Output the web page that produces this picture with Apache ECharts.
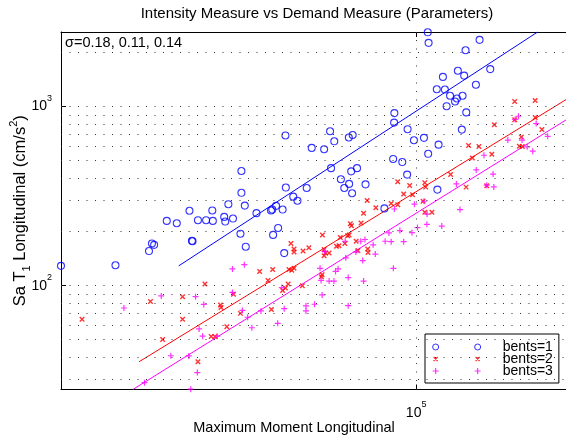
<!DOCTYPE html>
<html>
<head>
<meta charset="utf-8">
<title>Intensity Measure vs Demand Measure (Parameters)</title>
<style>
  html, body { margin: 0; padding: 0; background: #fff; }
  #main { width: 566px; height: 435px; }
</style>
</head>
<body>
<div id="main"></div>
<script src="https://cdn.jsdelivr.net/npm/echarts@6.0.0/dist/echarts.min.js"></script>
<script type="text/javascript">
// [maximum moment, Sa T1]
var bents1 = [
  [20000,129],[25600,130],[29800,156],[30200,172],[30500,169],[32300,230],[33800,223],[35800,262],[36200,178],[36300,177],
  [37200,232],[38600,232],[39700,263],[39800,230],[41900,242],[42100,228],[42700,285],[43600,237],[45100,195],[45300,437],
  [45300,330],[46000,280],[46200,165],[48500,254],[51800,263],[52100,266],[53000,279],[54600,266],[52300,192],[53500,210],
  [55300,690],[55400,353],[57300,314],[58400,298],[60900,351],[62300,588],[65900,578],[67700,728],[69000,640],[68000,453],
  [71100,393],[72200,351],[73800,370],[74800,328],[73700,672],[75000,694],[74500,435],[76500,453],[79500,368],[86600,270],
  [90100,510],[93900,490],[96000,417],[90600,920],[90500,814],[96200,748],[99000,649],[103600,669],[105400,2600],[105800,2270],
  [133300,2360],[125100,2065],[112900,1465],[120800,1585],[124300,1490],[139900,1620],[109800,1250],[113900,1245],[131100,1325],[116600,1150],
  [120300,1110],[119300,1068],[123400,1150],[114800,1005],[125500,928],[123000,744],[110700,613],[105600,545],[110100,344],[55000,152]
];
var bents2 = [
  [22000,65],[30000,81.5],[34700,86.8],[34700,65],[31700,50],[38400,102],[41200,78],[41300,75.5],[39500,52],[40200,52],
  [42400,59],[43700,89.5],[45100,70],[37200,37.6],[49200,120],[52200,123],[51100,107],[51900,73.6],[56700,172],[57500,160],
  [57500,154],[56200,123],[56900,122],[57500,125],[56000,102],[55300,97],[54600,94],[59700,100],[59900,156],[61500,163],
  [65400,192],[65900,159],[66300,152],[65900,147],[67400,152],[69700,166],[70500,167],[70900,186],[73300,190],[73800,192],
  [72400,172],[76200,177],[76800,157],[80300,160],[80400,153],[65300,115],[65100,112],[74200,222],[74600,216],[77900,224],
  [78800,254],[80100,299],[83300,272],[89300,288],[92000,283],[92000,381],[97100,362],[94500,325],[98400,322],[104000,376],
  [104400,355],[103200,296],[104000,257],[107400,257],[116900,418],[125400,355],[126800,606],[132900,599],[129000,517],[140900,542],
  [142500,793],[156300,1068],[171500,1080],[156300,844],[171500,870],[176800,744],[161100,677],[159600,600],[161800,598],[137700,361]
];
var bents3 = [
  [26600,75],[31500,87.6],[36800,86.8],[38200,78.5],[43500,124],[45900,131],[43500,91.6],[45500,72.7],[46600,66.6],[47500,58.2],
  [49500,72.2],[55000,74.4],[53400,61.6],[37400,57.3],[38000,52.2],[40600,52.2],[32900,40.6],[35700,40.5],[37100,32.7],[29200,28.7],
  [36000,26.4],[54400,97.5],[60700,77],[60700,72.2],[63100,78.7],[65300,88.7],[73500,77.3],[64700,125],[65000,107],[67400,106],
  [68900,106],[69400,120],[70200,124],[73500,111],[72700,143],[76100,154],[78500,138],[78800,106],[83100,150],[82300,169],
  [79300,181],[77800,177],[86900,177],[89300,176],[94500,176],[90200,125],[66100,155],[72500,177],[92900,203],[88400,197],
  [98100,198],[100600,211],[105000,220],[105100,251],[112300,215],[122000,266],[103600,296],[99200,285],[90600,268],[120000,370],
  [137700,364],[142200,356],[159000,883],[156600,847],[172300,804],[181500,682],[151500,650],[161600,650],[165400,596],[169600,564],
  [136000,535],[141700,420],[131300,443]
];
// fitted lines, end points
var fit1 = [[34100,129],[173400,2610]];
var fit2 = [[28500,37.6],[199000,1111]];
var fit3 = [[27700,26.3],[199000,856]];
// axis ranges and dotted grid
var xRange = [20000, 199000];
var yRange = [26.3, 2610];
var xGrid = [100000];
var yGrid = [30,40,50,60,70,80,90,100,200,300,400,500,600,700,800,900,1000,2000];
var names = ['bents=1', 'bents=2', 'bents=3'];
var sigmaText = 'σ=0.18, 0.11, 0.14';

var FONT = '"Liberation Sans", Arial, Helvetica, sans-serif';
var BLUE = '#0000ff', RED = '#ff0000', MAGENTA = '#ff00ff';

// 10^n labels, nothing for the range ends
function powLabel(v) {
  var e = Math.log(v) / Math.LN10;
  if (Math.abs(e - Math.round(e)) > 1e-6) return '';
  return '{b|10}{s|' + Math.round(e) + '}';
}
var powRich = {
  b: { fontSize: 14, color: '#000', fontFamily: FONT },
  s: { fontSize: 9, color: '#000', fontFamily: FONT, padding: [0, 0, 16, 0] }
};

var gridLines = [];
yGrid.forEach(function (v) { gridLines.push({ yAxis: v }); });
xGrid.forEach(function (v) { gridLines.push({ xAxis: v }); });

// legend icons: marker at both ends of a 50x7 box
var iconO = 'path://M0,0M50,7M7,3.5A3,3,0,1,1,1,3.5A3,3,0,1,1,7,3.5ZM49,3.5A3,3,0,1,1,43,3.5A3,3,0,1,1,49,3.5Z';
var iconX = 'path://M0,0M50,7M2,1.5L6,5.5M6,1.5L2,5.5M44,1.5L48,5.5M48,1.5L44,5.5';
var iconP = 'path://M0,0M50,7M1,3.5L7,3.5M4,0.5L4,6.5M43,3.5L49,3.5M46,0.5L46,6.5';

var myChart = echarts.init(document.getElementById('main'), null, { renderer: 'canvas' });

function fitSeries(data, color) {
  return {
    type: 'line', data: data, symbol: 'none', silent: true, z: 2,
    lineStyle: { color: color, width: 1 }
  };
}
function markSeries(name, data, symbol, size, color, lw) {
  return {
    name: name, type: 'scatter', data: data, symbol: symbol, symbolSize: size, z: 3,
    emphasis: { disabled: true },
    itemStyle: { color: 'transparent', borderColor: color, borderWidth: lw }
  };
}

var gridSeries = fitSeries(fit1, BLUE);
gridSeries.markLine = {
  silent: true, symbol: ['none', 'none'], animation: false,
  label: { show: false },
  lineStyle: { type: [1, 7.5], color: '#333', width: 1 },
  data: gridLines
};

var option = {
  animation: false,
  textStyle: { fontFamily: FONT },
  title: {
    text: 'Intensity Measure vs Demand Measure (Parameters)',
    left: 317, top: 6, padding: 0, textAlign: 'center',
    textStyle: { fontSize: 15, fontWeight: 'normal', color: '#000', fontFamily: FONT }
  },
  // keep the axes box fixed, labels may sit outside it
  grid: { left: 61, right: -2, top: 32, bottom: 45.5, containLabel: false, outerBoundsMode: 'none' },
  xAxis: [{
    type: 'log', logBase: 10, min: xRange[0], max: xRange[1], position: 'bottom',
    name: 'Maximum Moment Longitudinal', nameLocation: 'middle', nameGap: 31, nameMoveOverlap: false,
    nameTextStyle: { fontSize: 14.5, color: '#000', fontFamily: FONT, padding: [0, 41, 0, 0] },
    axisLine: { show: true, onZero: false, lineStyle: { color: '#000', width: 1 } },
    axisTick: { show: true, inside: true, length: 5, lineStyle: { color: '#000' } },
    axisLabel: { show: true, interval: 0, margin: 11, formatter: powLabel, rich: powRich },
    splitLine: { show: false }
  }, {
    type: 'log', logBase: 10, min: xRange[0], max: xRange[1], position: 'top',
    axisLine: { show: true, onZero: false, lineStyle: { color: '#000', width: 1 } },
    axisTick: { show: true, inside: true, length: 5, lineStyle: { color: '#000' } },
    axisLabel: { show: false },
    splitLine: { show: false }
  }],
  yAxis: {
    type: 'log', logBase: 10, min: yRange[0], max: yRange[1],
    name: 'Sa T{sub|1} Longitudinal (cm/s{sup|2})',
    nameLocation: 'middle', nameGap: 28, nameRotate: 90, nameMoveOverlap: false,
    nameTextStyle: {
      fontSize: 16.5, color: '#000', fontFamily: FONT,
      rich: {
        sub: { fontSize: 11, color: '#000', fontFamily: FONT, padding: [13, 0, 0, 0] },
        sup: { fontSize: 11, color: '#000', fontFamily: FONT, padding: [0, 0, 14, 0] }
      }
    },
    axisLine: { show: true, onZero: false, lineStyle: { color: '#000', width: 1 } },
    axisTick: { show: true, inside: true, length: 5, lineStyle: { color: '#000' } },
    axisLabel: { show: true, interval: 0, margin: 9, formatter: powLabel, rich: powRich },
    splitLine: { show: false }
  },
  legend: {
    orient: 'vertical', left: 425, top: 334,
    padding: [6, 6, 5, 6],
    backgroundColor: '#fff', borderColor: '#000', borderWidth: 1, borderRadius: 0,
    itemWidth: 50, itemHeight: 7, itemGap: -2, selectedMode: false,
    textStyle: { fontSize: 14, lineHeight: 12, color: '#000', fontFamily: FONT, padding: [0, 0, 0, 16] },
    data: [
      { name: names[0], icon: iconO, itemStyle: { color: 'transparent', borderColor: BLUE, borderWidth: 1 } },
      { name: names[1], icon: iconX, itemStyle: { color: 'transparent', borderColor: RED, borderWidth: 1.3 } },
      { name: names[2], icon: iconP, itemStyle: { color: 'transparent', borderColor: MAGENTA, borderWidth: 1.2 } }
    ]
  },
  graphic: [{
    type: 'text', left: 65, top: 35, z: 10,
    style: { text: sigmaText, fill: '#000', font: '14.5px ' + FONT }
  }],
  series: [
    gridSeries,
    fitSeries(fit2, RED),
    fitSeries(fit3, MAGENTA),
    markSeries(names[0], bents1, 'circle', 7, BLUE, 1.1),
    markSeries(names[1], bents2, 'path://M0,0L4,4M4,0L0,4', 4.5, RED, 1.4),
    markSeries(names[2], bents3, 'path://M0,3L6,3M3,0L3,6', 6, MAGENTA, 1.2)
  ]
};

myChart.setOption(option);
</script>
</body>
</html>
